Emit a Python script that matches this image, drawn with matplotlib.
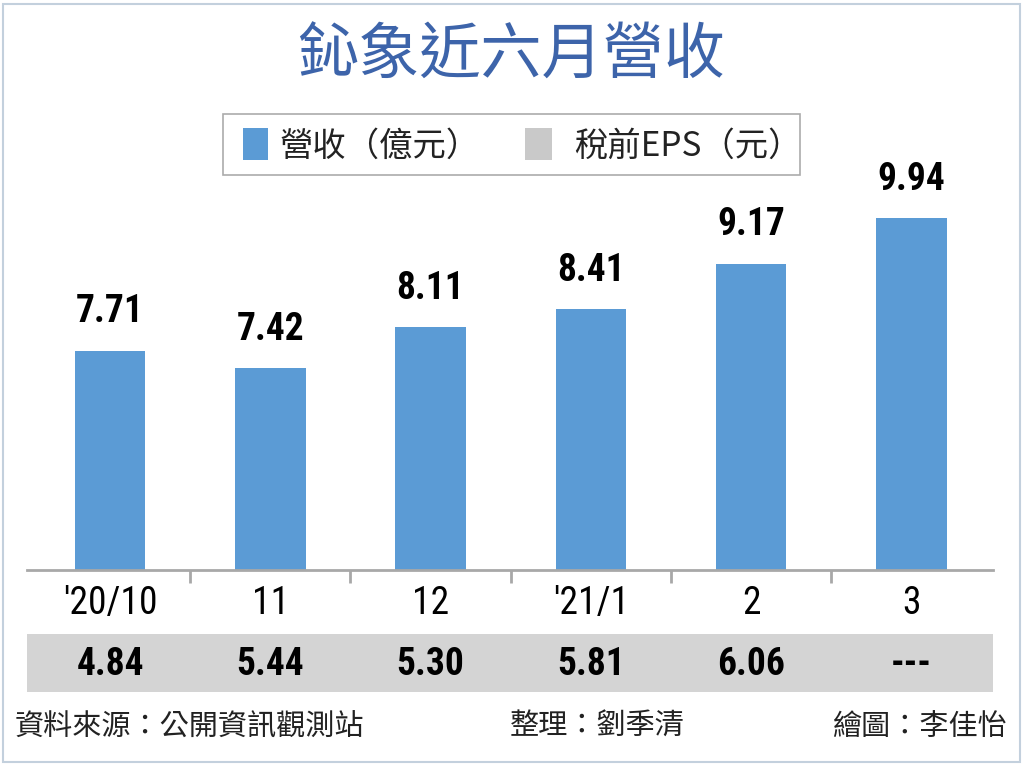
import matplotlib.pyplot as plt
from matplotlib.patches import Rectangle

plt.rcParams['font.family'] = ['Noto Sans CJK TC', 'DejaVu Sans']

# data
months = ["'20/10", "11", "12", "'21/1", "2", "3"]
revenue = [7.71, 7.42, 8.11, 8.41, 9.17, 9.94]
eps_labels = ["4.84", "5.44", "5.30", "5.81", "6.06", "---"]

title = '鈊象近六月營收'
legend_labels = ['營收（億元）', '稅前EPS（元）']
footer = ['資料來源：公開資訊觀測站', '整理：劉季清', '繪圖：李佳怡']

bar_color = '#5b9bd5'
gray = '#c9c9c9'
band_color = '#d4d4d4'
num_font = ['Liberation Sans Narrow', 'Roboto Condensed', 'DejaVu Sans']

W, H = 1024, 766
fig = plt.figure(figsize=(W / 100, H / 100), dpi=100)


def fx(px):
    return px / W


def fy(py):
    return 1 - py / H


# frame around the graphic
fig.patches.append(Rectangle((fx(3), fy(762)), fx(1017), 758 / H, transform=fig.transFigure,
                             fill=False, edgecolor='#c3d0dd', linewidth=1.5))

# title
fig.text(fx(511), fy(56), title, ha='center', va='center', fontsize=44,
         fontweight='medium', color='#3d64aa')

# legend box
fig.patches.append(Rectangle((fx(223), fy(175)), fx(577), 61 / H, transform=fig.transFigure,
                             facecolor='white', edgecolor='#ababab', linewidth=1.2))
fig.patches.append(Rectangle((fx(243), fy(160)), fx(25), 32 / H, transform=fig.transFigure,
                             facecolor=bar_color, edgecolor='none'))
fig.text(fx(280), fy(146), legend_labels[0], ha='left', va='center', fontsize=24,
         color='#222222')
fig.patches.append(Rectangle((fx(525), fy(160)), fx(27), 32 / H, transform=fig.transFigure,
                             facecolor=gray, edgecolor='none'))
fig.text(fx(574), fy(146), legend_labels[1], ha='left', va='center', fontsize=24,
         color='#222222')

# bar chart area: baseline at y=570 px, value 4.03 at baseline
ax = fig.add_axes([fx(27), fy(570), fx(966), 470 / H])
x = range(len(months))
ax.bar(x, revenue, width=0.44, bottom=0, color=bar_color)
ax.set_xlim(-0.519, 5.51)
ax.set_ylim(4.03, 4.03 + 470 / 59.6)
for i, v in enumerate(revenue):
    ax.text(i, v + 0.34, f'{v:.2f}', ha='center', va='bottom', fontsize=27,
            fontweight='bold', family=num_font, fontstretch='condensed')
for s in ['top', 'left', 'right']:
    ax.spines[s].set_visible(False)
ax.spines['bottom'].set_color('#a8a8a8')
ax.spines['bottom'].set_linewidth(2)
ax.set_yticks([])
ax.set_xticks([0.5, 1.5, 2.5, 3.5, 4.5])
ax.set_xticklabels([])
ax.tick_params(axis='x', length=9, width=2, color='#a8a8a8', direction='out')
ax.patch.set_alpha(0)

# month labels
for i, m in enumerate(months):
    ax.text(i, -0.072, m, ha='center', va='center', fontsize=27,
            family=num_font, fontstretch='condensed', transform=ax.get_xaxis_transform())

# EPS band
ax2 = fig.add_axes([fx(27), fy(692), fx(966), 58 / H])
ax2.set_facecolor(band_color)
ax2.set_xlim(-0.519, 5.51)
ax2.set_ylim(0, 1)
for s in ax2.spines.values():
    s.set_visible(False)
ax2.set_xticks([])
ax2.set_yticks([])
for i, e in enumerate(eps_labels):
    ax2.text(i, 0.48, e, ha='center', va='center', fontsize=27,
             fontweight='bold', family=num_font, fontstretch='condensed')

# footer
fig.text(fx(15), fy(727), footer[0], ha='left', va='center', fontsize=21, color='#222222')
fig.text(fx(510), fy(727), footer[1], ha='left', va='center', fontsize=21, color='#222222')
fig.text(fx(1007), fy(727), footer[2], ha='right', va='center', fontsize=21, color='#222222')

fig.savefig('out.png', dpi=100)
